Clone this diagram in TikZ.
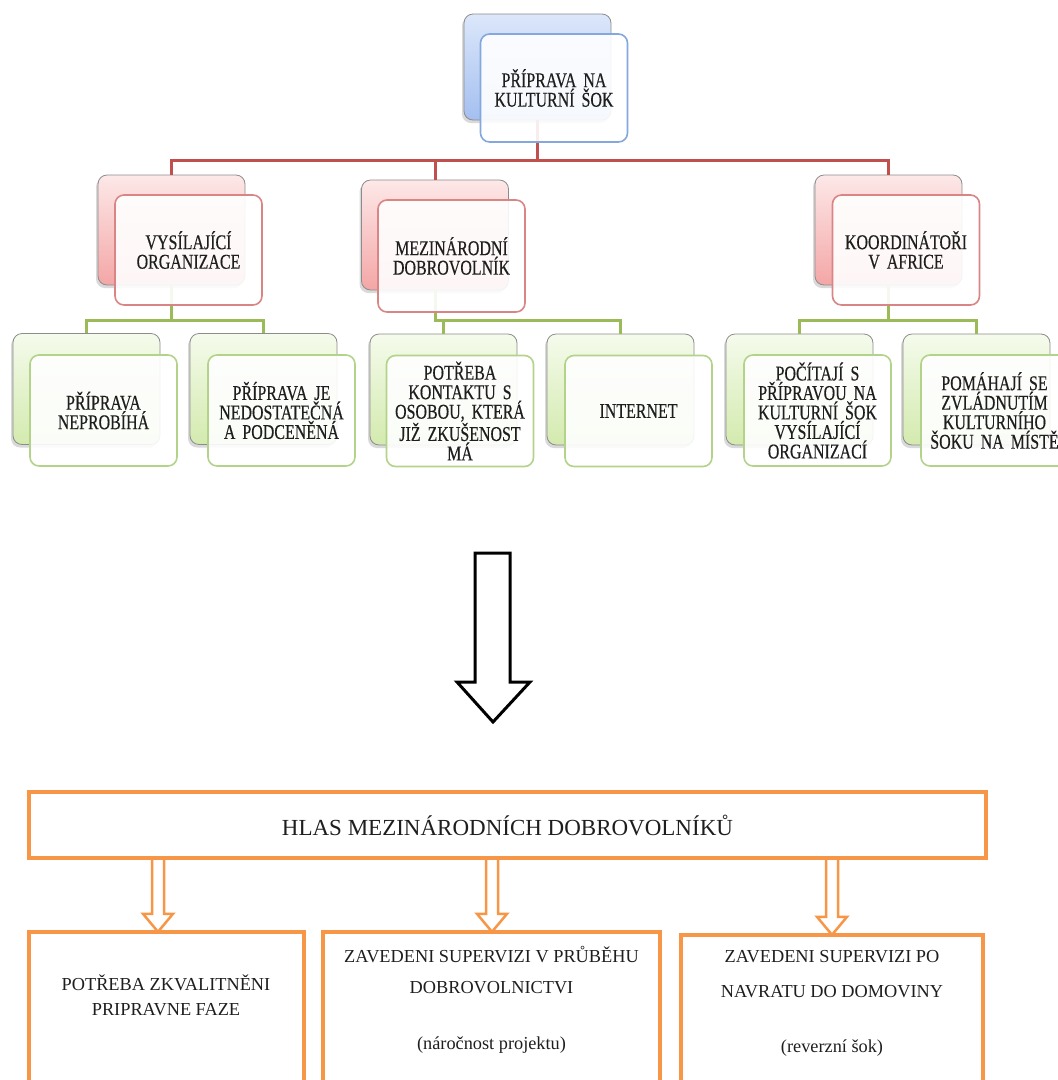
\documentclass[tikz,border=0pt]{standalone}
\usepackage{fontspec}
\setmainfont{Liberation Serif}
\newfontfamily\upfont[FakeStretch=0.76,FakeBold=0.4,WordSpace=0.6]{Liberation Serif}
\usetikzlibrary{shadows,calc}
\definecolor{redln}{HTML}{C0504D}
\definecolor{grnln}{HTML}{9BBB59}
\definecolor{bluebd}{HTML}{84A8DE}
\definecolor{redbd}{HTML}{D98585}
\definecolor{grnbd}{HTML}{B3D38A}
\definecolor{orng}{HTML}{F79646}
\definecolor{blueT}{HTML}{DCE7FA}
\definecolor{blueB}{HTML}{A4BFF0}
\definecolor{redT}{HTML}{FDE8E8}
\definecolor{redB}{HTML}{F4A6A6}
\definecolor{grnT}{HTML}{F5FBEC}
\definecolor{grnB}{HTML}{D3EAAE}
\definecolor{txt}{HTML}{1E1E1E}
\tikzset{
 backbox/.style={draw=black!45, line width=0.8pt, rounded corners=9pt, minimum width=147pt, minimum height=110pt, inner sep=0pt, drop shadow={shadow xshift=-2pt, shadow yshift=-3pt, opacity=0.3}},
 bkblue/.style={backbox, top color=blueT, bottom color=blueB},
 bkred/.style={backbox, top color=redT, bottom color=redB},
 bkgrn/.style={backbox, top color=grnT, bottom color=grnB},
 frontbox/.style={rounded corners=9pt, minimum width=147pt, minimum height=110pt, fill=white, fill opacity=0.9, text opacity=1, line width=1.6pt, align=center, text width=144pt, inner sep=1.5pt, text=txt, font=\upfont\fontsize{21}{19.5}\selectfont},
 frblue/.style={frontbox, draw=bluebd},
 frred/.style={frontbox, draw=redbd},
 frgrn/.style={frontbox, draw=grnbd},
 redconn/.style={draw=redln, line width=3pt},
 grnconn/.style={draw=grnln, line width=3pt},
 obox/.style={draw=orng, line width=4pt, inner sep=0pt},
 otext/.style={text=txt, font=\fontsize{18.3}{20}\selectfont, inner sep=0pt},
 oarrow/.style={draw=orng, fill=white, line width=2.5pt, line join=miter},
 bigarrow/.style={draw=black, fill=white, line width=3pt, line join=miter},
}
\newcommand\hollowarrow[3]{% style, from, to
  \draw[#1] let \p1=(#2), \p2=(#3) in
    (\x1-6pt,\y1) -- (\x1-6pt,\y2+18pt) -- (\x1-15pt,\y2+18pt) -- (\x2,\y2)
    -- (\x1+15pt,\y2+18pt) -- (\x1+6pt,\y2+18pt) -- (\x1+6pt,\y1);}
\begin{document}
\begin{tikzpicture}[x=1pt,y=-1pt]
\path[use as bounding box] (0,0) rectangle (1058,1080);
\clip (0,0) rectangle (1058,1080);
% back boxes
\node[bkblue, minimum height=106pt] (topb) at (537.5,67) {};
\node[bkred] (v1b) at (171.5,230) {};
\node[bkred] (v2b) at (435,235) {};
\node[bkred] (v3b) at (888.5,230) {};
\node[bkgrn, minimum height=111pt] (g1b) at (86.5,389) {};
\node[bkgrn, minimum height=111pt] (g2b) at (263.5,389) {};
\node[bkgrn, minimum height=111pt] (g3b) at (443.5,389.5) {};
\node[bkgrn, minimum height=111pt] (g4b) at (620.5,389.5) {};
\node[bkgrn, minimum height=111pt] (g5b) at (799.5,389.5) {};
\node[bkgrn, minimum height=111pt] (g6b) at (976.5,389.5) {};
% connectors
\coordinate (rbus) at (0,160);
\coordinate (gbus) at (0,320);
\draw[redconn] (topb.south) -- (topb.south |- rbus) -| (v1b.north);
\draw[redconn] (topb.south |- rbus) -| (v2b.north);
\draw[redconn] (topb.south |- rbus) -| (v3b.north);
\draw[grnconn] (v1b.south) -- (v1b.south |- gbus) -| (g1b.north);
\draw[grnconn] (v1b.south |- gbus) -| (g2b.north);
\draw[grnconn] (v2b.south) -- (v2b.south |- gbus) -| (g3b.north);
\draw[grnconn] (v2b.south |- gbus) -| (g4b.north);
\draw[grnconn] (v3b.south) -- (v3b.south |- gbus) -| (g5b.north);
\draw[grnconn] (v3b.south |- gbus) -| (g6b.north);
% front boxes
\node[frblue, minimum height=108pt] (topf) at (554,88) {PŘÍPRAVA NA\\KULTURNÍ ŠOK};
\node[frred] (v1f) at (188.5,250) {VYSÍLAJÍCÍ\\ORGANIZACE};
\node[frred, minimum height=112pt] (v2f) at (451.5,256) {MEZINÁRODNÍ\\DOBROVOLNÍK};
\node[frred] (v3f) at (906,250) {KOORDINÁTOŘI\\V AFRICE};
\node[frgrn, minimum height=111pt] (g1f) at (103.5,410.5) {PŘÍPRAVA\\NEPROBÍHÁ};
\node[frgrn, minimum height=111pt] (g2f) at (281.5,410.5) {PŘÍPRAVA JE\\NEDOSTATEČNÁ\\A PODCENĚNÁ};
\node[frgrn, minimum height=111pt] (g3f) at (460,411) {POTŘEBA\\KONTAKTU S\\OSOBOU, KTERÁ\\JIŽ ZKUŠENOST\\MÁ};
\node[frgrn, minimum height=111pt] (g4f) at (638.5,411) {INTERNET};
\node[frgrn, minimum height=111pt] (g5f) at (817.5,410.5) {POČÍTAJÍ S\\PŘÍPRAVOU NA\\KULTURNÍ ŠOK\\VYSÍLAJÍCÍ\\ORGANIZACÍ};
\node[frgrn, minimum height=111pt] (g6f) at (994.5,410.5) {POMÁHAJÍ SE\\ZVLÁDNUTÍM\\KULTURNÍHO\\ŠOKU NA MÍSTĚ};
% big arrow
\draw[bigarrow] (475,553) -- (510,553) -- (510,682) -- (530,682) -- (493,722) -- (457,682) -- (475,682) -- cycle;
% lower part
\coordinate (ax1) at (158,0);
\coordinate (ax2) at (492,0);
\coordinate (ax3) at (832,0);
\coordinate (hlasc) at (507.5,825);
\coordinate (r1c) at (166.5,1012);
\coordinate (r2c) at (491.5,1012);
\coordinate (r3c) at (832,1015);
\path (hlasc) node[minimum width=957pt, minimum height=66pt, inner sep=0pt] (hlas) {};
\path (r1c) node[minimum width=275pt, minimum height=160pt, inner sep=0pt] (r1) {};
\path (r2c) node[minimum width=337pt, minimum height=160pt, inner sep=0pt] (r2) {};
\path (r3c) node[minimum width=302pt, minimum height=160pt, inner sep=0pt] (r3) {};
\hollowarrow{oarrow}{hlas.south -| ax1}{r1.north -| ax1}
\hollowarrow{oarrow}{hlas.south -| ax2}{r2.north -| ax2}
\hollowarrow{oarrow}{hlas.south -| ax3}{r3.north -| ax3}
\node[obox, minimum width=957pt, minimum height=66pt, font=\fontsize{23}{26}\selectfont, text=txt] (hlasbox) at (hlasc) {HLAS MEZINÁRODNÍCH DOBROVOLNÍKŮ};
\node[obox, minimum width=275pt, minimum height=160pt] (r1box) at (r1c) {};
\node[obox, minimum width=337pt, minimum height=160pt] (r2box) at (r2c) {};
\node[obox, minimum width=302pt, minimum height=160pt] (r3box) at (r3c) {};
\node[otext] (r1a) at (166,983) {POTŘEBA ZKVALITNĚNI};
\node[otext] (r1b) at (166,1010) {PRIPRAVNE FAZE};
\node[otext] (r2a) at (491.5,955) {ZAVEDENI SUPERVIZI V PRŮBĚHU};
\node[otext] (r2b) at (491.5,988) {DOBROVOLNICTVI};
\node[otext] (r2t) at (491.5,1045) {(náročnost projektu)};
\node[otext] (r3a) at (832,957) {ZAVEDENI SUPERVIZI PO};
\node[otext] (r3b) at (832,992) {NAVRATU DO DOMOVINY};
\node[otext] (r3t) at (832,1048) {(reverzní šok)};
\end{tikzpicture}
\end{document}
